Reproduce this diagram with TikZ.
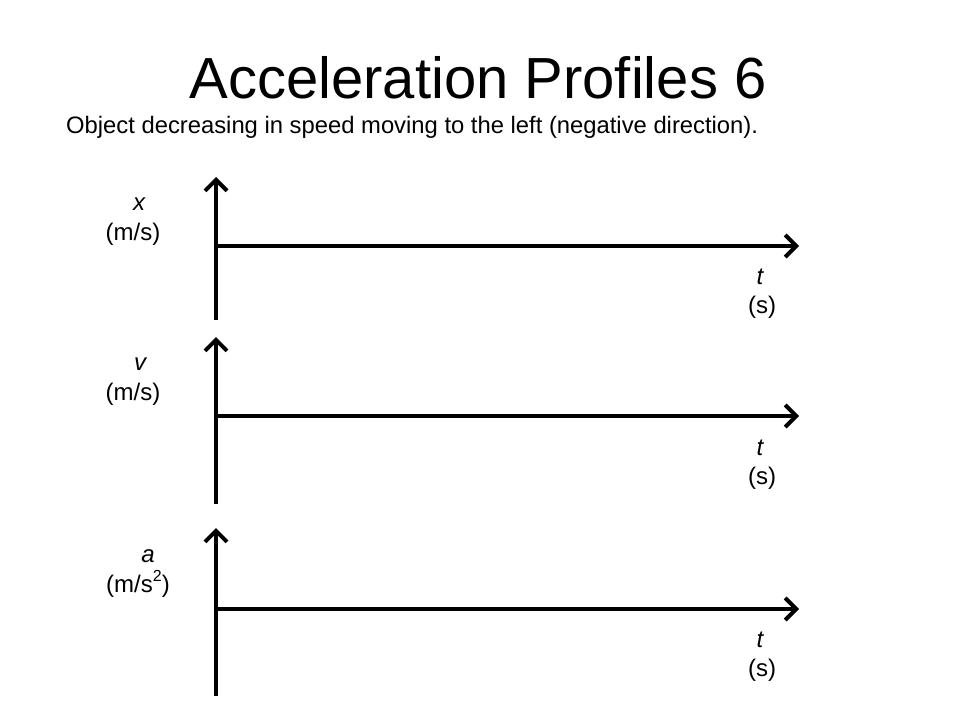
\documentclass[tikz,border=0pt]{standalone}
\usepackage{fontspec}
\setmainfont{Liberation Sans}
\usetikzlibrary{arrows.meta}
\begin{document}
\begin{tikzpicture}[x=1pt,y=-1pt,
  axisline/.style={line width=4pt,-{Straight Barb[length=11pt,width=22pt,line width=4pt]}},
  lbl/.style={inner sep=0pt,anchor=base,font=\fontsize{24}{26}\selectfont}]
\useasboundingbox[fill=white] (0,0) rectangle (960,720);
\node[inner sep=0pt,anchor=base,font=\fontsize{58}{62}\selectfont] (title) at (478,98) {Acceleration Profiles 6};
\node[inner sep=0pt,anchor=base west,font=\fontsize{23.8}{26}\selectfont] (sub) at (66,133) {Object decreasing in speed moving to the left (negative direction).};
% axis 1
\coordinate (b1) at (216,320); \coordinate (t1) at (216,177);
\coordinate (o1) at (216,246); \coordinate (e1) at (799,246);
\draw[axisline] (b1) -- (t1);
\draw[axisline] (o1) -- (e1);
\node[lbl] (x1) at (139,210) {\itshape x};
\node[lbl] (u1) at (133,240) {(m/s)};
\node[lbl] (tt1) at (760,284) {\itshape t};
\node[lbl] (s1) at (762,313) {(s)};
% axis 2
\coordinate (b2) at (216,504); \coordinate (t2) at (216,337);
\coordinate (o2) at (216,416); \coordinate (e2) at (799,416);
\draw[axisline] (b2) -- (t2);
\draw[axisline] (o2) -- (e2);
\node[lbl] (x2) at (140,370) {\itshape v};
\node[lbl] (u2) at (133,400) {(m/s)};
\node[lbl] (tt2) at (760,455) {\itshape t};
\node[lbl] (s2) at (762,484) {(s)};
% axis 3
\coordinate (b3) at (216,696); \coordinate (t3) at (216,528);
\coordinate (o3) at (216,609); \coordinate (e3) at (799,609);
\draw[axisline] (b3) -- (t3);
\draw[axisline] (o3) -- (e3);
\node[lbl] (x3) at (148,562) {\itshape a};
\node[lbl] (u3) at (138,592) {(m/s\raisebox{0.45em}{\fontsize{16}{16}\selectfont 2})};
\node[lbl] (tt3) at (760,647) {\itshape t};
\node[lbl] (s3) at (762,676) {(s)};
\end{tikzpicture}
\end{document}
